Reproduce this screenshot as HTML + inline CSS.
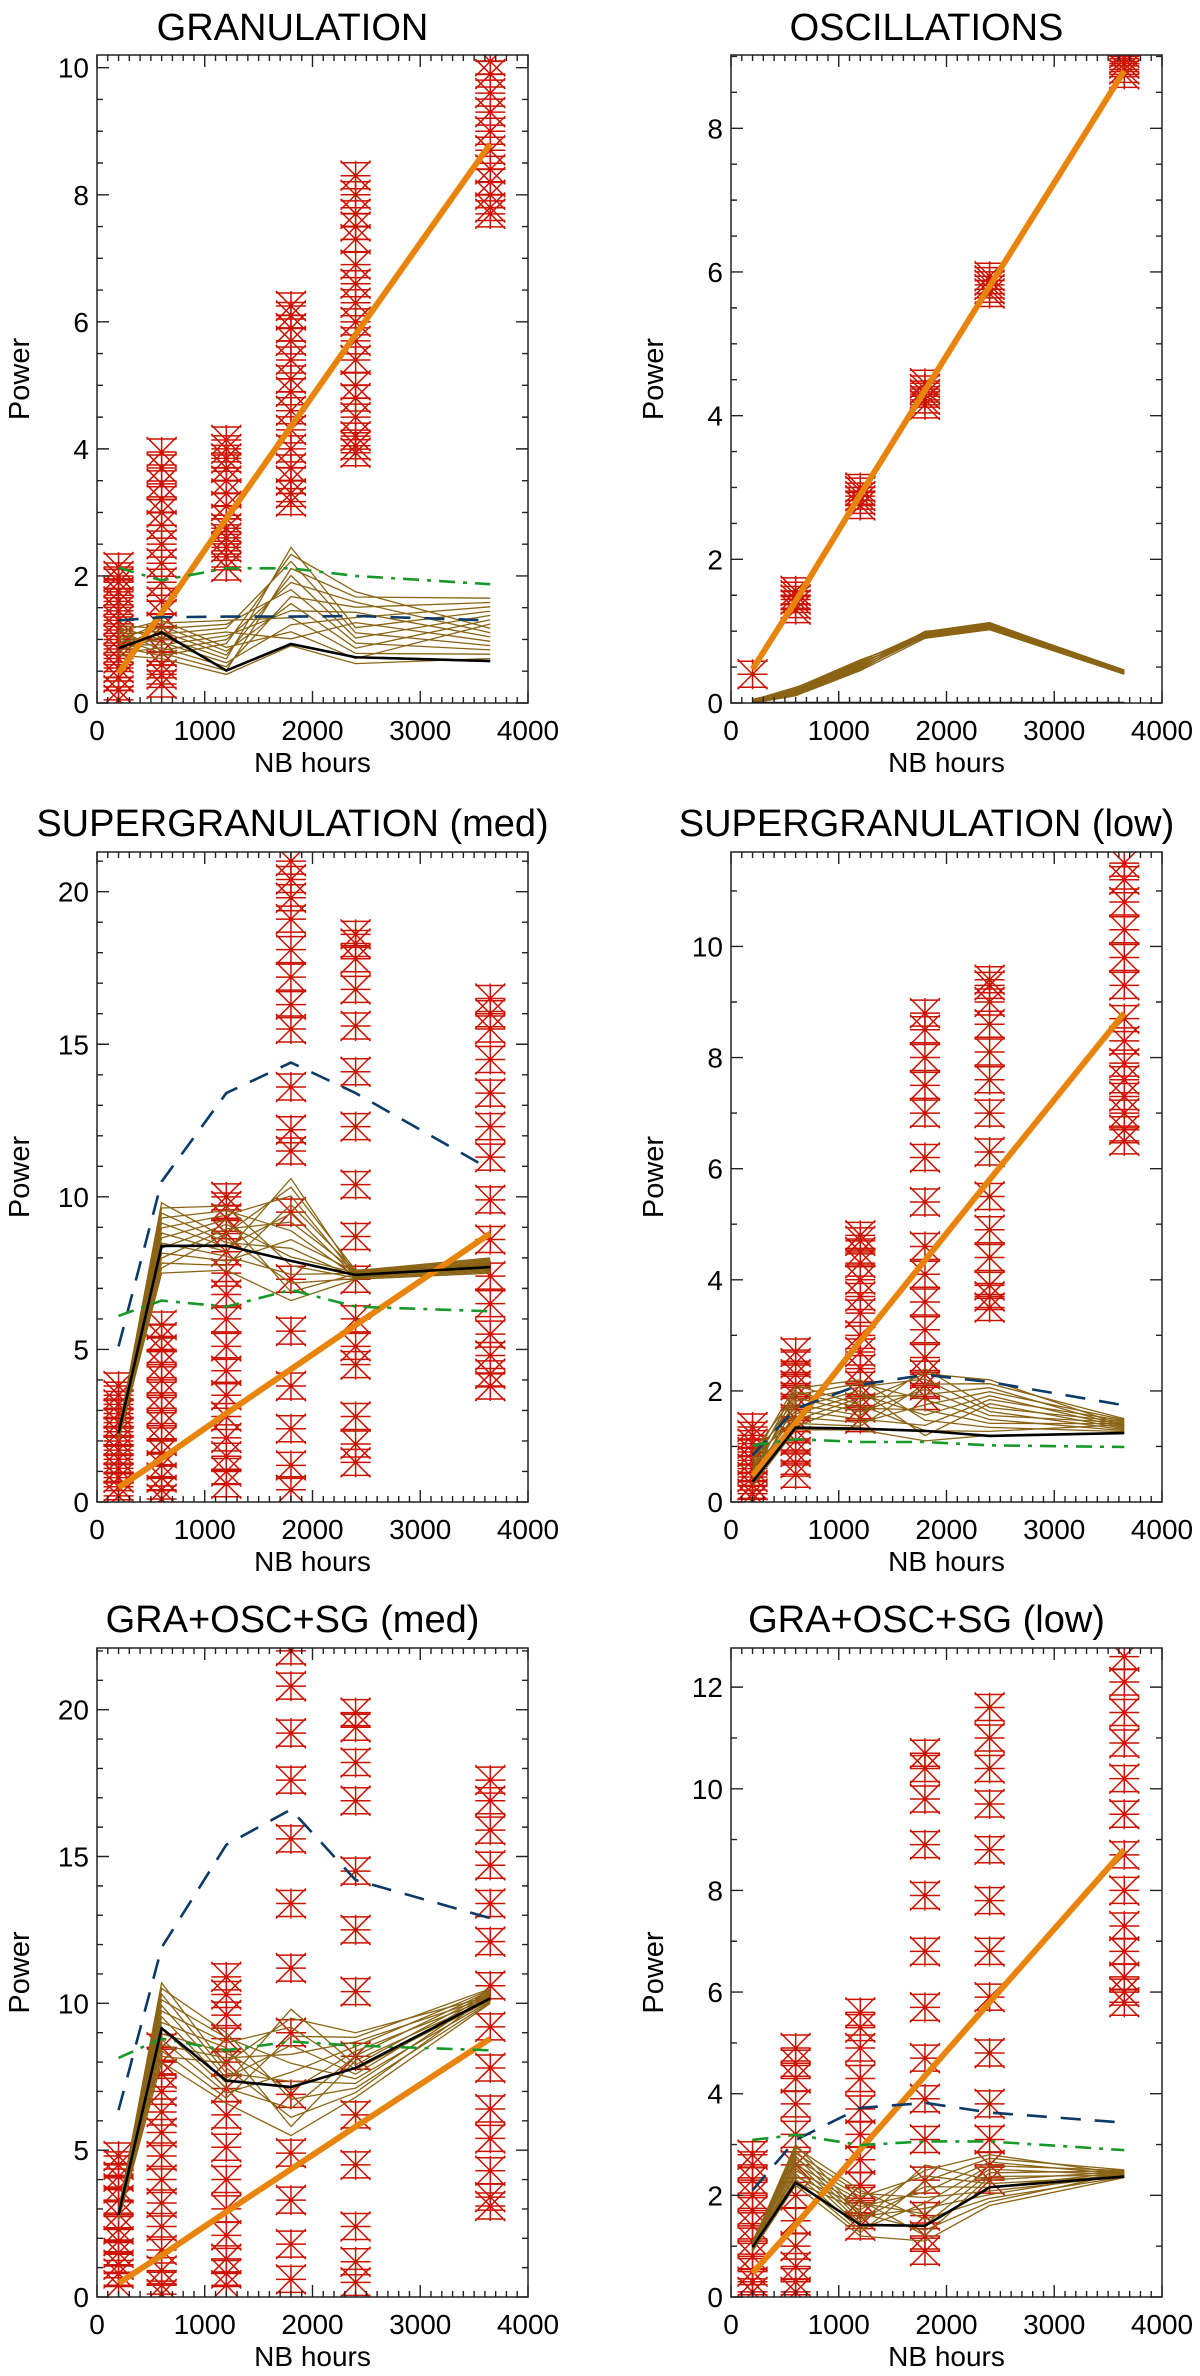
<!DOCTYPE html>
<html><head><meta charset="utf-8">
<style>
html,body{margin:0;padding:0;background:#fff;}
svg{display:block;font-family:"Liberation Sans",sans-serif;}
</style></head>
<body>
<svg id="fig" width="1200" height="2376" viewBox="0 0 1200 2376" xmlns="http://www.w3.org/2000/svg"></svg>
<script>
// ---------- shared data ----------
const xsHours = [200, 600, 1200, 1800, 2400, 3650];
const orangeFit = [0.47, 1.42, 2.9, 4.35, 5.8, 8.8];

// panel titles / ranges
const titles = ["GRANULATION","OSCILLATIONS","SUPERGRANULATION (med)","SUPERGRANULATION (low)","GRA+OSC+SG (med)","GRA+OSC+SG (low)"];
const yMaxs = [10.2, 9.02, 21.3, 11.7, 22.1, 12.77];
const yMajor = [2, 2, 5, 2, 5, 2];
const yMinor = [0.5, 0.5, 1, 1, 1, 1];
const xTicks = [0, 1000, 2000, 3000, 4000];

// black (mean) lines
const black1 = [0.86, 1.11, 0.51, 0.93, 0.72, 0.66];
const black2 = [0.0, 0.0, 0.0, 0.0, 0.0, 0.0];
const black3 = [2.26, 8.39, 8.4, 7.9, 7.44, 7.7];
const black4 = [0.36, 1.34, 1.32, 1.28, 1.19, 1.24];
const black5 = [2.8, 9.15, 7.37, 7.15, 7.8, 10.17];
const black6 = [0.98, 2.25, 1.42, 1.40, 2.16, 2.37];
// blue dashed
const blue1 = [1.30, 1.35, 1.36, 1.36, 1.37, 1.30];
const blue3 = [5.1, 10.5, 13.4, 14.4, 13.4, 10.9];
const blue4 = [0.84, 1.68, 2.11, 2.29, 2.16, 1.74];
const blue5 = [6.36, 11.9, 15.4, 16.6, 14.2, 12.9];
const blue6 = [2.1, 3.09, 3.72, 3.82, 3.63, 3.43];
// green dash-dot
const green1 = [2.13, 1.93, 2.12, 2.12, 2.0, 1.87];
const green3 = [6.1, 6.6, 6.4, 6.95, 6.4, 6.25];
const green4 = [1.02, 1.13, 1.08, 1.08, 1.02, 0.99];
const green5 = [8.14, 8.8, 8.4, 8.7, 8.56, 8.4];
const green6 = [3.09, 3.19, 2.99, 3.06, 3.06, 2.89];
// brown fan envelopes
const brownLo1 = [0.75, 0.7, 0.45, 0.9, 0.62, 0.7];
const brownHi1 = [1.22, 1.3, 1.3, 2.45, 1.75, 1.65];
const brownLo2 = [0.0, 0.1, 0.45, 0.9, 1.02, 0.4];
const brownHi2 = [0.05, 0.22, 0.6, 1.0, 1.12, 0.46];
const brownLo3 = [2.0, 7.5, 7.6, 6.6, 7.3, 7.5];
const brownHi3 = [2.4, 9.8, 9.7, 10.6, 7.6, 8.0];
const brownLo4 = [0.3, 1.3, 1.3, 1.1, 1.2, 1.25];
const brownHi4 = [0.9, 2.1, 2.2, 2.4, 2.2, 1.5];
const brownLo5 = [2.6, 8.0, 6.6, 5.5, 6.8, 10.0];
const brownHi5 = [3.0, 10.7, 9.0, 9.8, 9.0, 10.5];
const brownLo6 = [0.9, 2.2, 1.2, 1.1, 1.8, 2.35];
const brownHi6 = [1.1, 3.0, 2.1, 2.6, 2.8, 2.5];
const brownMult = [1, 4, 2, 7, 11, 13];

// red asterisk stacks (per panel, per x)
const red1 = [
 [0.05,0.2,0.4,0.55,0.7,0.85,1.0,1.15,1.3,1.45,1.6,1.75,1.9,2.0,2.14],
 [0.3,0.45,0.6,0.8,1.0,1.2,1.4,1.6,1.9,2.2,2.5,2.8,3.0,3.2,3.45,3.7,3.95],
 [2.14,2.3,2.45,2.6,2.75,2.9,3.1,3.3,3.5,3.7,3.85,4.0,4.14],
 [3.17,3.3,3.5,3.7,4.0,4.3,4.6,4.9,5.1,5.4,5.7,5.9,6.1,6.25],
 [3.94,4.05,4.2,4.5,4.8,5.0,5.4,5.7,6.0,6.3,6.6,6.9,7.3,7.5,7.7,8.0,8.3],
 [7.7,7.8,8.0,8.2,8.4,8.7,9.0,9.3,9.6,9.9,10.1]
];
const red2 = [
 [0.4],
 [1.3,1.37,1.44,1.5,1.56],
 [2.75,2.82,2.88,2.95,3.0],
 [4.15,4.22,4.3,4.37,4.45],
 [5.7,5.76,5.82,5.88,5.94],
 [8.75,8.82,8.9,8.97,9.05]
];
const red3 = [
 [0.2,0.5,0.8,1.1,1.4,1.7,2.0,2.3,2.6,2.9,3.2,3.5,3.8],
 [0.1,0.4,0.8,1.2,1.6,2.0,2.5,3.0,3.5,4.0,4.5,5.0,5.4,5.8],
 [0.6,1.0,1.5,2.1,2.8,3.5,4.3,5.1,6.0,6.8,7.5,8.2,8.8,9.3,9.7,10.0],
 [0.4,1.2,2.4,3.8,5.6,7.3,9.5,11.5,12.2,13.6,15.5,16.3,17.2,18.1,19.1,19.8,20.4,21.0],
 [1.3,1.9,2.8,4.5,5.1,6.0,7.3,8.7,10.4,12.3,14.1,15.6,16.8,17.8,18.3,18.6],
 [3.8,4.2,4.8,5.5,6.5,7.4,8.6,9.9,11.3,12.3,13.4,14.5,15.5,16.0,16.5]
];
const red4 = [
 [0.05,0.15,0.3,0.45,0.6,0.75,0.9,1.05,1.2,1.35],
 [0.5,0.7,0.9,1.1,1.3,1.5,1.7,1.9,2.1,2.3,2.5,2.7],
 [1.5,1.7,1.9,2.1,2.4,2.7,3.0,3.4,3.7,4.0,4.3,4.5,4.7,4.8],
 [1.9,2.1,2.3,2.6,3.1,3.6,4.1,4.6,5.4,6.2,7.0,7.5,8.0,8.5,8.8],
 [3.5,3.7,3.9,4.4,4.9,5.5,6.3,7.0,7.6,8.1,8.6,9.0,9.3,9.4],
 [6.5,6.7,7.0,7.3,7.6,7.9,8.3,8.7,9.3,9.8,10.3,10.8,11.2,11.5]
];
const red5 = [
 [0.4,0.8,1.1,1.5,1.9,2.3,2.8,3.3,3.7,4.1,4.5,4.8],
 [0.1,0.4,0.9,1.6,2.4,3.2,4.0,4.8,5.6,6.3,7.0,7.6,8.0,8.5],
 [0.4,0.8,1.3,2.1,3.0,4.0,5.1,6.2,7.1,8.0,8.8,9.6,10.3,10.9],
 [0.6,1.8,3.3,4.9,6.9,9.0,11.2,13.4,15.6,17.6,19.2,20.8,22.0],
 [0.5,1.2,2.4,4.5,6.2,8.2,10.4,12.5,14.5,16.9,18.2,19.4,19.9],
 [3.1,3.4,4.3,5.4,6.4,7.8,9.2,10.6,12.1,13.4,14.7,15.9,16.9,17.6]
];
const red6 = [
 [0.1,0.3,0.5,0.8,1.1,1.4,1.7,2.0,2.3,2.6,2.8],
 [0.1,0.3,0.6,1.0,1.5,2.0,2.6,3.2,3.8,4.3,4.6,4.9],
 [1.4,1.6,1.9,2.2,2.7,3.2,3.7,4.3,4.9,5.3,5.6],
 [0.9,1.2,1.6,2.3,3.1,3.9,4.7,5.7,6.8,7.9,8.9,9.8,10.4,10.7],
 [2.3,2.6,3.1,3.8,4.8,5.9,6.8,7.8,8.8,9.7,10.4,11.0,11.6],
 [5.8,6.0,6.3,6.8,7.3,8.0,8.7,9.5,10.2,10.9,11.5,12.1,12.6]
];

const panelsData = [
 {red:red1, black:black1, blue:blue1, green:green1, lo:brownLo1, hi:brownHi1},
 {red:red2, black:black2, blue:null, green:null, lo:brownLo2, hi:brownHi2},
 {red:red3, black:black3, blue:blue3, green:green3, lo:brownLo3, hi:brownHi3},
 {red:red4, black:black4, blue:blue4, green:green4, lo:brownLo4, hi:brownHi4},
 {red:red5, black:black5, blue:blue5, green:green5, lo:brownLo5, hi:brownHi5},
 {red:red6, black:black6, blue:blue6, green:green6, lo:brownLo6, hi:brownHi6}
];

// ---------- layout ----------
const colX = [[97, 528], [731, 1162]];
const rowY = [[55, 703], [852, 1502], [1648, 2297]];
const titleY = [40, 836, 1632];

const NS = "http://www.w3.org/2000/svg";
const svg = document.getElementById('fig');
function mk(tag, attrs, parent){
  const e = document.createElementNS(NS, tag);
  for (const k in attrs) e.setAttribute(k, attrs[k]);
  (parent||svg).appendChild(e);
  return e;
}
const defs = mk('defs', {});
const N_BROWN = 15;

for (let p = 0; p < 6; p++) {
  const col = p % 2, row = Math.floor(p / 2);
  const [L, R] = colX[col], [T, B] = rowY[row];
  const ymax = yMaxs[p];
  const sx = v => L + (v / 4000) * (R - L);
  const sy = v => B - (v / ymax) * (B - T);
  const d = panelsData[p];

  const g = mk('g', {});
  
  

  const cp = mk('clipPath', {id: 'clip' + p}, defs);
  mk('rect', {x: L, y: T, width: R - L, height: B - T}, cp);
  const plot = mk('g', {'clip-path': 'url(#clip' + p + ')'}, g);
  
  

  // red asterisks
  const rg = mk('g', {stroke: '#cc1100', 'stroke-width': 1.5, fill: 'none'}, plot);
  
  
  const s = 15;
  d.red.forEach((col, i) => {
    const cx = sx(xsHours[i]);
    col.forEach(v => {
      const cy = sy(v);
      const m = mk('path', {d: `M${cx-s},${cy}H${cx+s}M${cx},${cy-s}V${cy+s}M${cx-s},${cy-s}L${cx+s},${cy+s}M${cx-s},${cy+s}L${cx+s},${cy-s}M${cx-s},${cy-s+2}H${cx+s}M${cx-s},${cy+s-2}H${cx+s}`}, rg);
      
      
    });
  });

  // brown fan (lines permuted between envelope positions -> mesh)
  const bg = mk('g', {stroke: '#8a6414', 'stroke-width': 1.3, fill: 'none'}, plot);
  
  
  for (let k = 0; k < N_BROWN; k++) {
    const pts = xsHours.map((x, i) => {
      const rank = (k * brownMult[i]) % N_BROWN;
      const ff = rank / (N_BROWN - 1);
      const v = d.lo[i] + ff * (d.hi[i] - d.lo[i]);
      return sx(x).toFixed(1) + ',' + sy(v).toFixed(1);
    });
    const pl = mk('polyline', {points: pts.join(' ')}, bg);
    
    
  }

  // orange fit
  const orPts = xsHours.map((x, i) => sx(x) + ',' + sy(orangeFit[i])).join(' ');
  const or = mk('polyline', {points: orPts, stroke: '#e8840c', 'stroke-width': 6, fill: 'none', 'stroke-linejoin': 'round'}, plot);
  
  

  // blue dashed
  if (d.blue) {
    const bl = mk('polyline', {points: xsHours.map((x, i) => sx(x) + ',' + sy(d.blue[i])).join(' '), stroke: '#0b3a66', 'stroke-width': 2.6, fill: 'none', 'stroke-dasharray': '20 14'}, plot);
    
    
  }
  // green dash-dot
  if (d.green) {
    const gl = mk('polyline', {points: xsHours.map((x, i) => sx(x) + ',' + sy(d.green[i])).join(' '), stroke: '#17992a', 'stroke-width': 2.6, fill: 'none', 'stroke-dasharray': '16 8 4 8'}, plot);
    
    
  }
  // black
  const bk = mk('polyline', {points: xsHours.map((x, i) => sx(x) + ',' + sy(d.black[i])).join(' '), stroke: '#000', 'stroke-width': 2.6, fill: 'none'}, plot);
  
  

  // axes frame
  const fr = mk('rect', {x: L, y: T, width: R - L, height: B - T, fill: 'none', stroke: '#222', 'stroke-width': 1.5}, g);
  
  

  // ticks
  let td = '';
  for (let v = 0; v <= 4000; v += 100) {
    const x = sx(v), len = (v % 1000 === 0) ? 12 : 6;
    td += `M${x},${B}V${B-len}M${x},${T}V${T+len}`;
  }
  const nMinor = Math.round(yMajor[p] / yMinor[p]);
  for (let k = 0; k * yMinor[p] <= ymax + 1e-9; k++) {
    const y = sy(k * yMinor[p]), len = (k % nMinor === 0) ? 12 : 6;
    td += `M${L},${y}H${L+len}M${R},${y}H${R-len}`;
  }
  const tk = mk('path', {d: td, stroke: '#222', 'stroke-width': 1.4, fill: 'none'}, g);
  
  

  // y tick labels
  for (let v = 0; v <= ymax + 1e-9; v += yMajor[p]) {
    const t = mk('text', {x: L - 8, y: sy(v) + 10, 'text-anchor': 'end', 'font-size': 28, fill: '#000'}, g);
    t.textContent = String(v);
    
    
  }
  // x tick labels
  xTicks.forEach(v => {
    const t = mk('text', {x: sx(v), y: B + 37, 'text-anchor': 'middle', 'font-size': 28, fill: '#000'}, g);
    t.textContent = String(v);
    
    
  });
  const xt = mk('text', {x: (L + R) / 2, y: B + 69, 'text-anchor': 'middle', 'font-size': 28, fill: '#000'}, g);
  xt.textContent = 'NB hours';
  
  
  const yc = (T + B) / 2;
  const yt = mk('text', {x: L - 68, y: yc, 'text-anchor': 'middle', 'font-size': 29, fill: '#000', transform: `rotate(-90 ${L-68} ${yc})`}, g);
  yt.textContent = 'Power';
  
  
  const tt = mk('text', {x: (L + R) / 2 - 20, y: titleY[row], 'text-anchor': 'middle', 'font-size': 38, fill: '#000'}, g);
  tt.textContent = titles[p];
  
  
}
</script>
</body></html>
